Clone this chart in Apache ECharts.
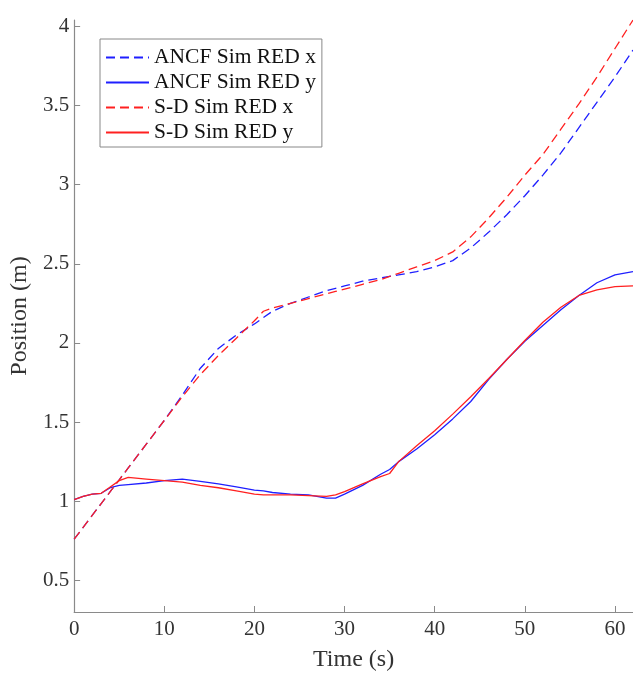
<!DOCTYPE html>
<html>
<head>
<meta charset="utf-8">
<script src="https://cdn.jsdelivr.net/npm/echarts@6/dist/echarts.min.js"></script>
<style>html,body{margin:0;padding:0;background:#fff;}#c{width:633px;height:678px;}</style>
</head>
<body>
<div id="c"></div>
<script>
// Time samples (s)
var time = [0,1,2,3,4,5,6,8,10,12,14,16,18,20,21,22,24,26,28,29,30,32,34,35,36,38,40,42,44,46,48,50,52,54,56,58,60,62];
// Position values (m)
var ancfX = [0.76,0.835,0.91,0.985,1.06,1.135,1.21,1.36,1.51,1.67,1.84,1.965,2.05,2.12,2.16,2.20,2.25,2.29,2.33,2.345,2.36,2.39,2.41,2.42,2.43,2.45,2.48,2.52,2.60,2.70,2.81,2.93,3.06,3.20,3.36,3.52,3.68,3.85];
var ancfY = [1.01,1.03,1.045,1.05,1.085,1.10,1.105,1.115,1.13,1.14,1.125,1.11,1.09,1.07,1.065,1.055,1.045,1.04,1.02,1.02,1.045,1.10,1.17,1.20,1.25,1.33,1.42,1.52,1.63,1.77,1.895,2.01,2.11,2.21,2.30,2.38,2.43,2.45];
var sdX = [0.76,0.835,0.91,0.985,1.06,1.135,1.21,1.36,1.51,1.66,1.80,1.92,2.03,2.14,2.20,2.22,2.25,2.28,2.31,2.325,2.34,2.37,2.40,2.42,2.44,2.48,2.52,2.575,2.67,2.79,2.92,3.06,3.19,3.35,3.51,3.68,3.86,4.04];
var sdY = [1.01,1.03,1.045,1.05,1.09,1.13,1.15,1.14,1.13,1.12,1.10,1.085,1.065,1.045,1.04,1.04,1.04,1.035,1.03,1.04,1.06,1.11,1.155,1.175,1.25,1.35,1.445,1.55,1.66,1.775,1.895,2.015,2.13,2.225,2.30,2.335,2.355,2.36];
var seriesNames = ['ANCF Sim RED x','ANCF Sim RED y','S-D Sim RED x','S-D Sim RED y'];
// Tick labels
var xTicks = [0,10,20,30,40,50,60];
var yTicks = [0.5,1,1.5,2,2.5,3,3.5,4];

var FONT = '"Liberation Serif","Times New Roman",serif';
var AXIS_COLOR = '#8a8a8a';
var TEXT_COLOR = '#333333';

function pairs(vals){ return time.map(function(t,i){ return [t, vals[i]]; }); }

var chart = echarts.init(document.getElementById('c'), null, {renderer:'canvas'});
function mkSeries(name, vals, color, dashed){
  return {
    name: name, type: 'line', data: pairs(vals), symbol: 'none', showSymbol: false,
    smooth: false, animation: false,
    lineStyle: {color: color, width: 1.3, type: dashed ? [9,5] : 'solid'},
    itemStyle: {color: color},
    emphasis: {disabled: true}
  };
}
chart.setOption({
  backgroundColor: '#ffffff',
  animation: false,
  grid: {left: 69, top: 20, width: 565, height: 592, containLabel: false},
  legend: {
    orient: 'vertical', left: 100, top: 39,
    icon: 'inherit',
    itemWidth: 43, itemHeight: 14, itemGap: 0,
    padding: [6, 6, 2, 5],
    borderColor: '#888888', borderWidth: 1, backgroundColor: '#ffffff',
    itemStyle: {opacity: 0, borderWidth: 0},
    textStyle: {fontFamily: FONT, fontSize: 21.5, color: '#111111', lineHeight: 25},
    data: seriesNames
  },
  xAxis: {
    type: 'value', min: 0, max: 62,
    name: 'Time (s)', nameLocation: 'middle', nameGap: 36,
    nameTextStyle: {fontFamily: FONT, fontSize: 24, color: TEXT_COLOR},
    axisLine: {show: true, lineStyle: {color: AXIS_COLOR, width: 1.2}},
    axisTick: {show: true, inside: true, length: 6, lineStyle: {color: AXIS_COLOR}, customValues: xTicks},
    axisLabel: {fontFamily: FONT, fontSize: 21, color: TEXT_COLOR, margin: 7, customValues: xTicks},
    splitLine: {show: false}
  },
  yAxis: {
    type: 'value', min: 0.3, max: 4.04,
    name: 'Position (m)', nameLocation: 'middle', nameGap: 38, nameRotate: 90,
    nameTextStyle: {fontFamily: FONT, fontSize: 24, color: TEXT_COLOR},
    axisLine: {show: true, lineStyle: {color: AXIS_COLOR, width: 1.2}},
    axisTick: {show: true, inside: true, length: 6, lineStyle: {color: AXIS_COLOR}, customValues: yTicks},
    axisLabel: {fontFamily: FONT, fontSize: 21, color: TEXT_COLOR, margin: 5, customValues: yTicks},
    splitLine: {show: false}
  },
  series: [
    mkSeries(seriesNames[0], ancfX, '#1f1fff', true),
    mkSeries(seriesNames[1], ancfY, '#1f1fff', false),
    mkSeries(seriesNames[2], sdX, '#ff2020', true),
    mkSeries(seriesNames[3], sdY, '#ff2020', false)
  ]
});
</script>
</body>
</html>
